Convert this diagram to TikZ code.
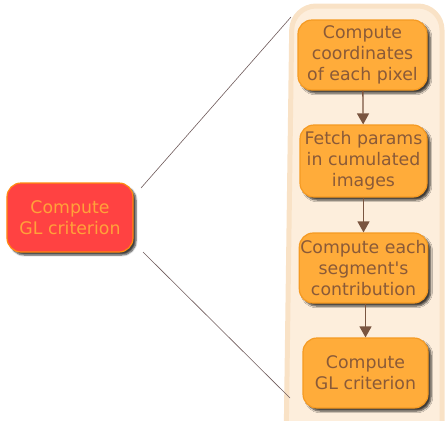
\documentclass[tikz,border=0pt]{standalone}
\usepackage{fontspec}
% a family without the TeX quote mapping, so ' stays straight
\newfontfamily\boxfont{DejaVu Sans}
\usetikzlibrary{shadows.blur,arrows.meta}
\definecolor{panelfill}{HTML}{FDEEDC}
\definecolor{paneledge}{HTML}{F9E2C6}
\definecolor{stepfill}{HTML}{FFAC3A}
\definecolor{stepedge}{HTML}{F59A22}
\definecolor{steptext}{HTML}{8A5A38}
\definecolor{mainfill}{HTML}{FF4242}
\definecolor{mainedge}{HTML}{FF8A10}
\definecolor{maintext}{HTML}{FFA23A}
\definecolor{flow}{HTML}{7A5540}
\definecolor{link}{HTML}{6E5A5A}
\tikzset{
  boxbase/.style={rounded corners=14bp, line width=1.2bp, align=center,
    font=\boxfont\fontsize{17.4}{21}\selectfont, inner sep=1bp,
    blur shadow={shadow xshift=3bp, shadow yshift=-3bp, shadow opacity=75, shadow blur steps=6, shadow blur extra rounding=2bp}},
  stepbox/.style={boxbase, fill=stepfill, draw=stepedge, text=steptext},
  mainbox/.style={boxbase, fill=mainfill, draw=mainedge, text=maintext},
  flowarrow/.style={draw=flow, line width=1.3bp, -{Triangle[length=11bp,width=12bp]}},
  linkline/.style={draw=link, line width=0.6bp}
}
\begin{document}
\begin{tikzpicture}[x=1bp,y=-1bp]
\useasboundingbox (0,0) rectangle (445,420);
% background panel holding the detailed steps
\path[fill=panelfill, draw=paneledge, line width=5bp, rounded corners=24bp]
  (292,6) -- (442,6) -- (442,450) -- (286,450) -- cycle;
\coordinate (ptop) at (291,17);
\coordinate (pbot) at (290,398);
% steps
\node[stepbox, minimum width=129bp, minimum height=70bp] (s1) at (362.5,55) {Compute\\coordinates\\of each pixel};
\node[stepbox, minimum width=127bp, minimum height=72bp] (s2) at (363.5,161) {Fetch params\\in cumulated\\images};
\node[stepbox, minimum width=127bp, minimum height=70bp] (s3) at (363.5,268) {Compute each\\segment's\\contribution};
\node[stepbox, minimum width=125bp, minimum height=70bp] (s4) at (365.5,373) {Compute\\GL criterion};
% overall step
\node[mainbox, minimum width=126bp, minimum height=69bp] (m) at (70,217.5) {Compute\\GL criterion};
\coordinate (mtop) at (141,188);
\coordinate (mbot) at (143,252);
% connectors
\draw[linkline] (mtop) -- (ptop);
\draw[linkline] (mbot) -- (pbot);
\draw[flowarrow] (s1) -- (s2);
\draw[flowarrow] (s2) -- (s3);
\draw[flowarrow] (s3.south -| s4.north) -- (s4);
\end{tikzpicture}
\end{document}
